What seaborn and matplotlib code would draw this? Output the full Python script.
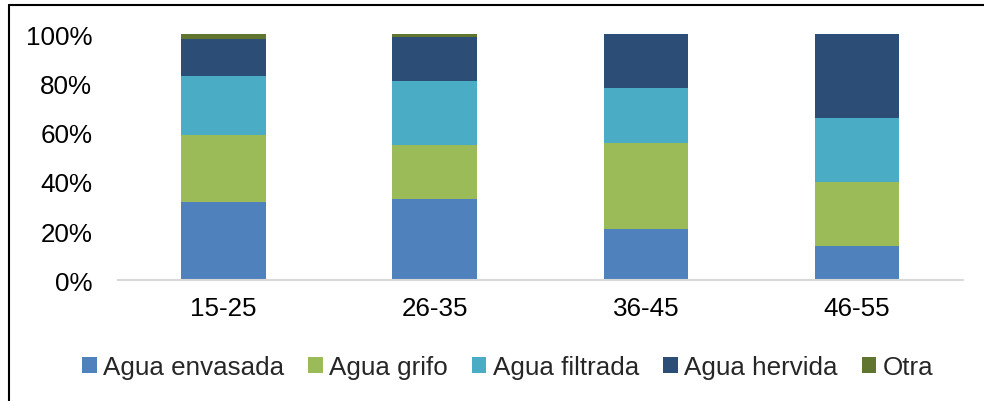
import matplotlib
matplotlib.use("Agg")
import matplotlib.pyplot as plt
from matplotlib.lines import Line2D
from matplotlib.patches import Patch
from matplotlib.ticker import FuncFormatter
import numpy as np
import seaborn as sns

# Age groups and share of each drinking-water source (%)
age_groups = ["15-25", "26-35", "36-45", "46-55"]
agua_envasada = [32, 33, 21, 14]
agua_grifo = [27, 22, 35, 26]
agua_filtrada = [24, 26, 22, 26]
agua_hervida = [15, 18, 22, 34]
otra = [2, 1, 0, 0]

series_names = ["Agua envasada", "Agua grifo", "Agua filtrada", "Agua hervida", "Otra"]
series_values = [agua_envasada, agua_grifo, agua_filtrada, agua_hervida, otra]
series_colors = ["#4F81BD", "#9BBB59", "#4BACC6", "#2C4D75", "#5F7530"]

sns.set_theme(style="white")
plt.rcParams["font.family"] = ["Liberation Sans", "DejaVu Sans"]

fig = plt.figure(figsize=(9.84, 4.02), dpi=100)
ax = fig.add_axes([0.1199, 0.3003, 0.8584, 0.6119])

# Stacked bars: draw cumulative totals from the top layer down
cumulative = np.cumsum(np.array(series_values, dtype=float), axis=0)
for name, color, top in reversed(list(zip(series_names, series_colors, cumulative))):
    sns.barplot(x=age_groups, y=top, color=color, width=0.4, ax=ax,
                saturation=1, linewidth=0, order=age_groups)

ax.set_ylim(0, 100)
ax.set_xlim(-0.5, len(age_groups) - 0.5)
ax.set_yticks([0, 20, 40, 60, 80, 100])
ax.yaxis.set_major_formatter(FuncFormatter(lambda v, _: f"{v:.0f}%"))
ax.set_xlabel("")
ax.set_ylabel("")
ax.tick_params(axis="y", length=0, pad=18.5, labelsize=18.7, labelcolor="black")
ax.tick_params(axis="x", length=0, pad=11.5, labelsize=18.7, labelcolor="black")
for side in ["top", "right", "left"]:
    ax.spines[side].set_visible(False)
ax.spines["bottom"].set_color("#D9D9D9")
ax.spines["bottom"].set_linewidth(1.5)
ax.grid(False)

handles = [Patch(facecolor=c, edgecolor="none") for c in series_colors]
fig.legend(handles, series_names, loc="center", bbox_to_anchor=(0.516, 0.0846),
           ncol=5, frameon=False, fontsize=18.7, handlelength=0.55, handleheight=0.55,
           handletextpad=0.25, columnspacing=0.93, borderaxespad=0)

# Frame lines along the top and left edges
fig.add_artist(Line2D([8.5 / 984, 1.0], [1 - 6 / 402, 1 - 6 / 402],
                      transform=fig.transFigure, color="black", linewidth=1.5))
fig.add_artist(Line2D([8.5 / 984, 8.5 / 984], [0.0, 1 - 6 / 402],
                      transform=fig.transFigure, color="black", linewidth=1.5))

fig.savefig("out.png", dpi=100, facecolor="white")
